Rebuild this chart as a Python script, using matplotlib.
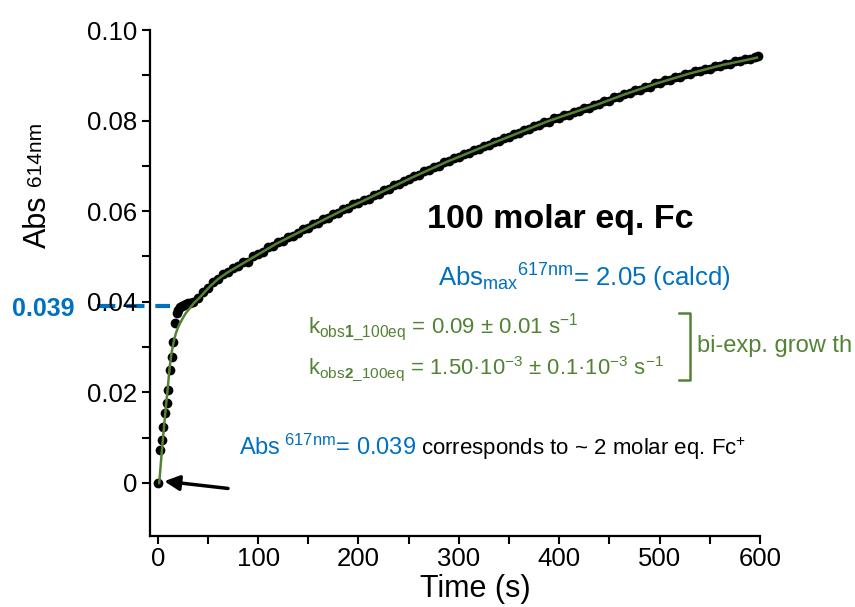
import matplotlib
matplotlib.use('Agg')
import matplotlib.pyplot as plt
from matplotlib.lines import Line2D
from matplotlib.ticker import MultipleLocator, FixedLocator

plt.rcParams['font.family'] = ['Liberation Sans', 'DejaVu Sans']
plt.rcParams['mathtext.fontset'] = 'custom'
plt.rcParams['mathtext.rm'] = 'Liberation Sans'
plt.rcParams['mathtext.it'] = 'Liberation Sans:italic'
plt.rcParams['mathtext.bf'] = 'Liberation Sans:bold'
plt.rcParams['mathtext.default'] = 'regular'

# ---------------- data ----------------
time_data = [0, 2.3, 4, 5.6, 7.3, 9, 10.6, 12.2, 13.9, 15.5, 17.2, 18.9, 20, 22, 24, 26, 28, 30, 32,
             35, 40, 45, 50, 55, 60, 65, 70, 75, 80, 85, 90, 95, 100, 105, 110, 115, 120, 125, 130,
             135, 140, 145, 150, 155, 160, 165, 170, 175, 180, 185, 190, 195, 200, 205, 210, 215,
             220, 225, 230, 235, 240, 245, 250, 255, 260, 265, 270, 275, 280, 285, 290, 295, 300,
             305, 310, 315, 320, 325, 330, 335, 340, 345, 350, 355, 360, 365, 370, 375, 380, 385,
             390, 395, 400, 405, 410, 415, 420, 425, 430, 435, 440, 445, 450, 455, 460, 465, 470,
             475, 480, 485, 490, 495, 500, 505, 510, 515, 520, 525, 530, 535, 540, 545, 550, 555,
             560, 565, 570, 575, 580, 585, 590, 595, 598]
abs_data = [0, 0.0073, 0.0095, 0.0124, 0.0154, 0.0176, 0.0205, 0.0249, 0.0279, 0.0312, 0.0353, 0.0375,
            0.0382, 0.0389, 0.0391, 0.0394, 0.0395, 0.0397, 0.0398,
            0.0400, 0.0409, 0.0421, 0.0430, 0.0444, 0.0451, 0.0461, 0.0466, 0.0475, 0.0478, 0.0488,
            0.0487, 0.0500, 0.0506, 0.0510, 0.0521, 0.0523, 0.0532, 0.0535, 0.0544, 0.0546, 0.0551,
            0.0560, 0.0563, 0.0571, 0.0574, 0.0583, 0.0586, 0.0594, 0.0596, 0.0605, 0.0607, 0.0615,
            0.0617, 0.0625, 0.0627, 0.0636, 0.0638, 0.0646, 0.0648, 0.0657, 0.0659, 0.0667, 0.0670,
            0.0678, 0.0680, 0.0688, 0.0690, 0.0698, 0.0700, 0.0708, 0.0710, 0.0717, 0.0719, 0.0727,
            0.0728, 0.0736, 0.0737, 0.0745, 0.0746, 0.0753, 0.0755, 0.0762, 0.0763, 0.0771, 0.0772,
            0.0780, 0.0781, 0.0788, 0.0790, 0.0797, 0.0798, 0.0805, 0.0805, 0.0812, 0.0813, 0.0820,
            0.0821, 0.0828, 0.0828, 0.0835, 0.0836, 0.0843, 0.0844, 0.0851, 0.0852, 0.0859, 0.0860,
            0.0867, 0.0868, 0.0874, 0.0875, 0.0882, 0.0883, 0.0889, 0.0890, 0.0896, 0.0896, 0.0903,
            0.0903, 0.0909, 0.0909, 0.0915, 0.0915, 0.0921, 0.0921, 0.0926, 0.0926, 0.0931, 0.0931,
            0.0936, 0.0936, 0.0941, 0.0942]

time_fit = [1.5, 4, 6, 8, 10, 12, 14, 16, 18, 20, 22, 25, 28, 32, 36, 42, 52, 60, 69, 85, 102, 118,
            135, 152, 168, 185, 201, 220, 255, 288, 321, 354, 388, 421, 440, 464, 497, 530, 563,
            587, 597]
abs_fit = [0, 0.0068, 0.0118, 0.0165, 0.0210, 0.0258, 0.0290, 0.0313, 0.0330, 0.0342, 0.0352,
           0.0364, 0.0375, 0.0386, 0.0397, 0.0410, 0.0434, 0.0450, 0.0464, 0.0485, 0.0507, 0.0528,
           0.0547, 0.0566, 0.0584, 0.0603, 0.0619, 0.0639, 0.0676, 0.0709, 0.0739, 0.0768, 0.0798,
           0.0823, 0.0837, 0.0857, 0.0882, 0.0904, 0.0923, 0.0934, 0.0939]

x_ticks = [0, 100, 200, 300, 400, 500, 600]
x_ticklabels = ['0', '100', '200', '300', '400', '500', '600']
y_ticks = [0, 0.02, 0.04, 0.06, 0.08, 0.10]
y_ticklabels = ['0', '0.02', '0.04', '0.06', '0.08', '0.10']
y_minor = [0.01, 0.03, 0.05, 0.07, 0.09]
abs_marker = 0.039

BLUE = '#0070C0'
GREEN = '#548235'

W, H = 855, 607
fig = plt.figure(figsize=(W / 100, H / 100), dpi=100)
ax = fig.add_axes([150 / W, 1 - 536 / H, 610 / W, 506 / H])


def fx(px):
    return px / W


def fy(py):
    return 1 - py / H


ax.plot(time_fit, abs_fit, color=GREEN, lw=1.8, zorder=3, clip_on=False)
ax.plot(time_data, abs_data, 'o', color='black', ms=7, mew=0, zorder=2, clip_on=False)

ax.set_xlim(-7.7, 600)
ax.set_ylim(-0.0117, 0.10)
ax.set_xticks(x_ticks)
ax.set_xticklabels(x_ticklabels)
ax.set_yticks(y_ticks)
ax.set_yticklabels(y_ticklabels)
ax.xaxis.set_minor_locator(MultipleLocator(50))
ax.yaxis.set_minor_locator(FixedLocator(y_minor))
for s in ['top', 'right']:
    ax.spines[s].set_visible(False)
for s in ['left', 'bottom']:
    ax.spines[s].set_linewidth(1.6)
ax.tick_params(which='both', direction='out', width=1.5, length=6, pad=3)
ax.tick_params(axis='y', labelsize=18.5)
ax.tick_params(axis='x', labelsize=18.5, pad=2)

# x label (placed under the tick labels)
fig.text(fx(475), fy(604), 'Time (s)', fontsize=22, ha='center', va='bottom')

# y label
fig.text(fx(38), fy(222), 'Abs', rotation=90, fontsize=22, ha='center', va='center')
fig.text(fx(35), fy(154), '614nm', rotation=90, fontsize=15, ha='center', va='center')

# dashed marker line at 0.039
ax.plot([-60.5, 12], [abs_marker, abs_marker], color=BLUE, lw=3, dashes=(4.4, 2.6),
        clip_on=False, zorder=1)
fig.text(fx(12), fy(309), '0.039', color=BLUE, fontsize=18, fontweight='bold',
         ha='left', va='center')

# arrow
ax.annotate('', xy=(6.5, 0.0004), xytext=(70, -0.0012),
            arrowprops=dict(arrowstyle='-|>,head_length=0.9,head_width=0.45',
                            color='black', lw=2.5, shrinkA=0, shrinkB=0))

# title
fig.text(fx(427), fy(228), '100 molar eq. Fc', fontsize=24.5, fontweight='bold',
         ha='left', va='baseline')
fig.text(fx(438), fy(287), r'Abs$_{max}$$^{617nm}$= 2.05 (calcd)', color=BLUE, fontsize=18.5,
         ha='left', va='baseline')

fig.text(fx(308), fy(334), r'k$_{obs\mathbf{1}\_100eq}$ = 0.09 ± 0.01 s$^{-1}$', color=GREEN,
         fontsize=16, ha='left', va='baseline')
fig.text(fx(308), fy(374), r'k$_{obs\mathbf{2}\_100eq}$ = 1.50·10$^{-3}$ ± 0.1·10$^{-3}$ s$^{-1}$',
         color=GREEN, fontsize=15.8, ha='left', va='baseline')

# bracket
fig.add_artist(Line2D([fx(679), fx(690), fx(690), fx(679)], [fy(313), fy(313), fy(380), fy(380)],
                      color=GREEN, lw=1.8))
fig.text(fx(697), fy(346), 'bi-exp. grow th', color=GREEN, fontsize=17, ha='left', va='center')

# bottom annotation (two colours)
t1 = fig.text(fx(239), fy(455), r'Abs$^{\ 617nm}$= 0.039', color=BLUE, fontsize=17,
              ha='left', va='baseline')
fig.canvas.draw()
bb = t1.get_window_extent(fig.canvas.get_renderer())
fig.text(bb.x1 / W + 0.006, fy(455), r'corresponds to ~ 2 molar eq. Fc$^{+}$', color='black',
         fontsize=16, ha='left', va='baseline')

fig.savefig('out.png', dpi=100, facecolor='white')
